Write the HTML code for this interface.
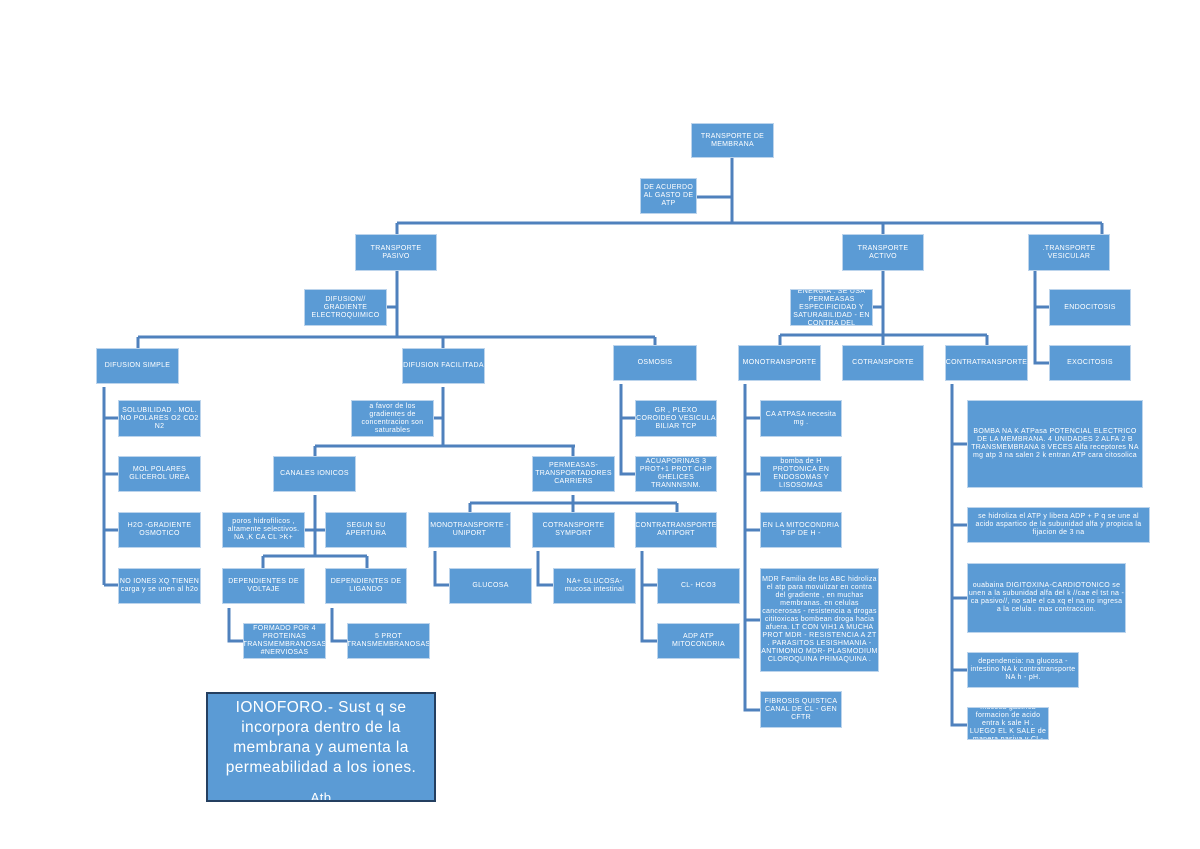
<!DOCTYPE html>
<html><head><meta charset="utf-8"><style>
body{margin:0;background:#fff;}
#c{position:relative;width:1200px;height:849px;overflow:hidden;font-family:"Liberation Sans",sans-serif;}
.b{position:absolute;background:#5b9bd5;border:1px solid #bcd4ec;box-sizing:border-box;color:#fff;font-size:7px;line-height:8px;display:flex;align-items:center;justify-content:center;text-align:center;overflow:hidden;letter-spacing:0.3px;white-space:normal;}
svg{position:absolute;left:0;top:0;}
.io{position:absolute;left:206px;top:692px;width:230px;height:110px;border:2px solid #243f60;box-sizing:border-box;background:#5b9bd5;color:#fff;font-size:15.5px;line-height:20px;text-align:center;overflow:hidden;padding:4px 6px 0;letter-spacing:0.4px;}
</style></head><body><div id="c">
<svg width="1200" height="849"><g stroke="#4f81bd" stroke-width="3" fill="none">
<path d="M732 158V223M732 197H697M397 223H1102M397 223V234M883 223V234M1102 223V234"/>
<path d="M397 271V337M397 307H387M138 337H655M138 337V348M443 337V348M655 337V345"/>
<path d="M104 387V585M104 418H118M104 474H118M104 530H118M104 585H118"/>
<path d="M443 387V446M443 418H434M315 446H575M315 446V456M573 446V456"/>
<path d="M315 495V556M305 530H325M263 556H367M263 556V568M367 556V568"/>
<path d="M229 608V641H243M332 608V641H347"/>
<path d="M573 495V503M470 503H677M470 503V512M573 503V512M677 503V512"/>
<path d="M435 551V585H449M538 551V585H553M642 551V641H657M642 585H657"/>
<path d="M621 384V474H635M621 418H635"/>
<path d="M883 271V335M883 307H873M780 335H987M780 335V345M883 335V345M987 335V345"/>
<path d="M745 384V710H760M745 418H760M745 474H760M745 530H760M745 620H760"/>
<path d="M952 384V725H967M952 444H967M952 525H967M952 598H967M952 670H967"/>
<path d="M1035 271V363H1049M1035 307H1049"/>
</g></svg>
<div class="b" style="left:691px;top:123px;width:83px;height:35px">TRANSPORTE DE MEMBRANA</div>
<div class="b" style="left:640px;top:178px;width:57px;height:36px">DE ACUERDO AL GASTO DE ATP</div>
<div class="b" style="left:355px;top:234px;width:82px;height:37px">TRANSPORTE PASIVO</div>
<div class="b" style="left:842px;top:234px;width:82px;height:37px">TRANSPORTE ACTIVO</div>
<div class="b" style="left:1028px;top:234px;width:82px;height:37px">.TRANSPORTE VESICULAR</div>
<div class="b" style="left:304px;top:289px;width:83px;height:37px">DIFUSION// GRADIENTE ELECTROQUIMICO</div>
<div class="b" style="left:96px;top:348px;width:83px;height:36px">DIFUSION SIMPLE</div>
<div class="b" style="left:402px;top:348px;width:83px;height:36px">DIFUSION FACILITADA</div>
<div class="b" style="left:613px;top:345px;width:84px;height:36px">OSMOSIS</div>
<div class="b" style="left:118px;top:400px;width:83px;height:37px">SOLUBILIDAD . MOL. NO POLARES O2 CO2 N2</div>
<div class="b" style="left:118px;top:456px;width:83px;height:36px">MOL POLARES GLICEROL UREA</div>
<div class="b" style="left:118px;top:512px;width:83px;height:36px">H2O -GRADIENTE OSMOTICO</div>
<div class="b" style="left:118px;top:568px;width:83px;height:36px">NO IONES XQ TIENEN carga y se unen al h2o</div>
<div class="b" style="left:351px;top:400px;width:83px;height:37px">a favor de los gradientes de concentracion son saturables</div>
<div class="b" style="left:273px;top:456px;width:83px;height:36px">CANALES IONICOS</div>
<div class="b" style="left:532px;top:456px;width:83px;height:36px">PERMEASAS-TRANSPORTADORES CARRIERS</div>
<div class="b" style="left:222px;top:512px;width:83px;height:36px">poros hidrofilicos , altamente selectivos. NA ,K CA CL &gt;K+</div>
<div class="b" style="left:325px;top:512px;width:82px;height:36px">SEGUN SU APERTURA</div>
<div class="b" style="left:222px;top:568px;width:83px;height:36px">DEPENDIENTES DE VOLTAJE</div>
<div class="b" style="left:325px;top:568px;width:82px;height:36px">DEPENDIENTES DE LIGANDO</div>
<div class="b" style="left:243px;top:623px;width:83px;height:36px">FORMADO POR 4 PROTEINAS TRANSMEMBRANOSAS #NERVIOSAS</div>
<div class="b" style="left:347px;top:623px;width:83px;height:36px">5 PROT TRANSMEMBRANOSAS</div>
<div class="b" style="left:428px;top:512px;width:83px;height:36px">MONOTRANSPORTE - UNIPORT</div>
<div class="b" style="left:532px;top:512px;width:83px;height:36px">COTRANSPORTE SYMPORT</div>
<div class="b" style="left:635px;top:512px;width:82px;height:36px">CONTRATRANSPORTE ANTIPORT</div>
<div class="b" style="left:449px;top:568px;width:83px;height:36px">GLUCOSA</div>
<div class="b" style="left:553px;top:568px;width:83px;height:36px">NA+ GLUCOSA- mucosa intestinal</div>
<div class="b" style="left:657px;top:568px;width:83px;height:36px">CL- HCO3</div>
<div class="b" style="left:657px;top:623px;width:83px;height:36px">ADP ATP MITOCONDRIA</div>
<div class="b" style="left:635px;top:400px;width:82px;height:37px">GR , PLEXO COROIDEO VESICULA BILIAR TCP</div>
<div class="b" style="left:635px;top:456px;width:82px;height:36px">ACUAPORINAS 3 PROT+1 PROT CHIP 6HELICES TRANNNSNM.</div>
<div class="b" style="left:790px;top:289px;width:83px;height:37px">ENERGIA . SE USA PERMEASAS ESPECIFICIDAD Y SATURABILIDAD - EN CONTRA DEL</div>
<div class="b" style="left:738px;top:345px;width:83px;height:36px">MONOTRANSPORTE</div>
<div class="b" style="left:842px;top:345px;width:82px;height:36px">COTRANSPORTE</div>
<div class="b" style="left:945px;top:345px;width:83px;height:36px">CONTRATRANSPORTE</div>
<div class="b" style="left:1049px;top:289px;width:82px;height:37px">ENDOCITOSIS</div>
<div class="b" style="left:1049px;top:345px;width:82px;height:36px">EXOCITOSIS</div>
<div class="b" style="left:760px;top:400px;width:82px;height:37px">CA ATPASA necesita mg .</div>
<div class="b" style="left:760px;top:456px;width:82px;height:36px">bomba de H PROTONICA EN ENDOSOMAS Y LISOSOMAS</div>
<div class="b" style="left:760px;top:512px;width:82px;height:36px">EN LA MITOCONDRIA TSP DE H -</div>
<div class="b" style="left:760px;top:568px;width:119px;height:104px">MDR Familia de los ABC hidroliza el atp para movulizar en contra del gradiente , en muchas membranas. en celulas cancerosas - resistencia a drogas cititoxicas bombean droga hacia afuera. LT CON VIH1 A MUCHA PROT MDR - RESISTENCIA A ZT . PARASITOS LESISHMANIA - ANTIMONIO MDR- PLASMODIUM CLOROQUINA PRIMAQUINA .</div>
<div class="b" style="left:760px;top:691px;width:82px;height:37px">FIBROSIS QUISTICA CANAL DE CL - GEN CFTR</div>
<div class="b" style="left:967px;top:400px;width:176px;height:88px">BOMBA NA K ATPasa POTENCIAL ELECTRICO DE LA MEMBRANA. 4 UNIDADES 2 ALFA 2 B TRANSMEMBRANA 8 VECES Alfa receptores NA mg atp 3 na salen 2 k entran ATP cara citosolica</div>
<div class="b" style="left:967px;top:507px;width:183px;height:36px">se hidroliza el ATP y libera ADP + P q se une al acido aspartico de la subunidad alfa y propicia la fijacion de 3 na</div>
<div class="b" style="left:967px;top:563px;width:159px;height:70px">ouabaina DIGITOXINA-CARDIOTONICO se unen a la subunidad alfa del k //cae el tst na -ca pasivo//, no sale el ca xq el na no ingresa a la celula . mas contraccion.</div>
<div class="b" style="left:967px;top:652px;width:112px;height:36px">dependencia: na glucosa - intestino NA k contratransporte NA h - pH.</div>
<div class="b" style="left:967px;top:707px;width:82px;height:33px">mucosa gastrica formacion de acido entra k sale H . LUEGO EL K SALE de manera pasiva y CL-</div>
<div class="io">IONOFORO.- Sust q se<br>incorpora dentro de la<br>membrana y aumenta la<br>permeabilidad a los iones.<br><span style="position:relative;top:10px;font-size:13px">Atb</span></div>
</div></body></html>
